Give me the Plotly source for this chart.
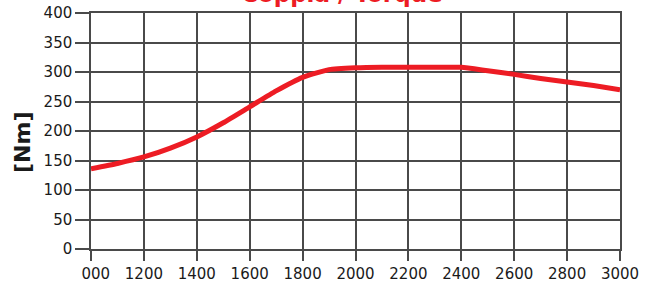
import plotly.graph_objects as go

rpm = [1000, 1100, 1200, 1300, 1400, 1500, 1600, 1700, 1800, 1900, 2000,
       2100, 2200, 2300, 2400, 2500, 2600, 2700, 2800, 2900, 3000]
torque = [136, 145, 156, 171, 190, 214, 241, 268, 291, 304, 307,
          308, 308, 308, 308, 302, 296, 289, 283, 277, 270]

x_ticks = [1000, 1200, 1400, 1600, 1800, 2000, 2200, 2400, 2600, 2800, 3000]
x_labels = ["<span style='color:rgba(0,0,0,0)'>1</span>000", "1200", "1400", "1600", "1800",
            "2000", "2200", "2400", "2600", "2800", "3000"]
y_ticks = [0, 50, 100, 150, 200, 250, 300, 350, 400]

title_text = "Coppia / Torque"
y_title = "[Nm]"

RED = "#ED1C24"
GRID = "#4a4a4a"
FONT = "DejaVu Sans"

fig = go.Figure()
fig.add_trace(go.Scatter(x=rpm, y=torque, mode="lines",
                         line=dict(color=RED, width=5, shape="spline", smoothing=0.5),
                         hoverinfo="skip"))

fig.update_layout(
    width=657, height=284,
    margin=dict(l=91, r=37, t=13, b=35, autoexpand=False),
    paper_bgcolor="white", plot_bgcolor="white",
    showlegend=False,
    font=dict(family=FONT, size=15, color="#1a1a1a"),
)
fig.update_xaxes(range=[1000, 3000], tickvals=x_ticks, ticktext=x_labels,
                 automargin=False, ticklabeloverflow="allow",
                 showgrid=True, gridcolor=GRID, gridwidth=1.5,
                 showline=True, linecolor=GRID, linewidth=1.5, mirror=True,
                 ticks="outside", ticklen=10, tickcolor=GRID, tickwidth=1.5,
                 zeroline=False, tickfont=dict(family=FONT, size=15))
fig.update_yaxes(range=[0, 400], tickvals=y_ticks,
                 automargin=False, ticklabeloverflow="allow",
                 showgrid=True, gridcolor=GRID, gridwidth=1.5,
                 showline=True, linecolor=GRID, linewidth=1.5, mirror=True,
                 ticks="outside", ticklen=14, tickcolor=GRID, tickwidth=1.5,
                 zeroline=False, tickfont=dict(family=FONT, size=15))

fig.add_annotation(text="<b>" + y_title + "</b>", xref="paper", yref="paper",
                   x=(22 - 91) / 529, y=(249 - 143) / 236,
                   xanchor="center", yanchor="middle", textangle=-90,
                   showarrow=False, font=dict(family=FONT, size=22, color="#1a1a1a"))
fig.add_annotation(text="<b>" + title_text + "</b>", xref="paper", yref="paper",
                   x=(341.5 - 91) / 529, y=(249 - 9) / 236,
                   xanchor="center", yanchor="bottom",
                   showarrow=False, font=dict(family=FONT, size=23, color=RED))

fig.write_html("out.html", config={"displayModeBar": False},
               post_script="document.body.style.margin='0';document.body.style.overflow='hidden';")
